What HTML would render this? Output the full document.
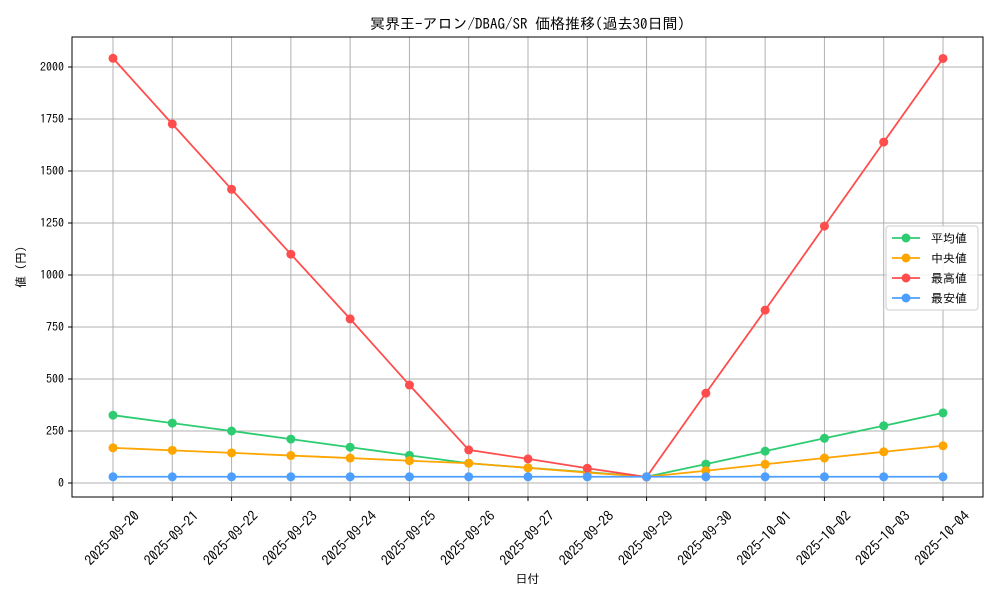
<!DOCTYPE html>
<html><head><meta charset="utf-8"><style>
html,body{margin:0;padding:0;background:#fff;}
svg{display:block;font-family:"IPAGothic","Noto Sans CJK JP",monospace;}
</style></head><body>
<svg id="chart" width="1000" height="600"></svg>
<script>
const categories=["2025-09-20","2025-09-21","2025-09-22","2025-09-23","2025-09-24","2025-09-25","2025-09-26","2025-09-27","2025-09-28","2025-09-29","2025-09-30","2025-10-01","2025-10-02","2025-10-03","2025-10-04"];
const avgValues=[326,288,250,211,172,133,95,73,52,30,91,153,215,275,337];
const medianValues=[169,157,145,132,120,107,95,73,50,30,59,90,120,150,179];
const maxValues=[2042,1726,1412,1100,789,471,159,116,71,29,432,831,1235,1639,2041];
const minValues=[30,30,30,30,30,30,30,30,30,30,30,30,30,30,30];
const yTicks=[0,250,500,750,1000,1250,1500,1750,2000];
const seriesNames=["平均値","中央値","最高値","最安値"];
const colors=["#2ecc71","#ffa500","#ff4d4d","#4d9fff"];

const NS="http://www.w3.org/2000/svg";
const svg=document.getElementById('chart');
const L=72,R=983,T=37,B=497;
const x=i=>113+i*(943-113)/(categories.length-1);
const y=v=>483-v*(416/2000);
function mk(tag,attrs,parent){const e=document.createElementNS(NS,tag);for(const k in attrs)e.setAttribute(k,attrs[k]);(parent||svg).appendChild(e);return e;}

const grid=mk('g',{});


categories.forEach((c,i)=>{mk('line',{x1:x(i),x2:x(i),y1:T,y2:B,stroke:'#b0b0b0','stroke-width':1},grid);});
yTicks.forEach(t=>{mk('line',{x1:L,x2:R,y1:y(t),y2:y(t),stroke:'#b0b0b0','stroke-width':1},grid);});

const frame=mk('rect',{x:L,y:T,width:R-L,height:B-T,fill:'none',stroke:'#000','stroke-width':1});



yTicks.forEach(t=>{
  mk('line',{x1:L-4,x2:L,y1:y(t),y2:y(t),stroke:'#000'});
  const tx=mk('text',{x:L-8,y:y(t)+4,'text-anchor':'end','font-size':12});
  tx.textContent=t;
  
  
});
categories.forEach((c,i)=>{
  mk('line',{x1:x(i),x2:x(i),y1:B,y2:B+4,stroke:'#000'});
  const ax=x(i)-1, ay=538;
  const tx=mk('text',{x:ax,y:ay+5,'text-anchor':'middle','font-size':14,transform:`rotate(-45 ${ax} ${ay})`});
  tx.textContent=c;
  
  
});

const all=[avgValues,medianValues,maxValues,minValues];
all.forEach((vals,s)=>{
  const g=mk('g',{});
  
  
  mk('polyline',{points:vals.map((v,i)=>x(i)+','+y(v)).join(' '),fill:'none',stroke:colors[s],'stroke-width':1.8},g);
  vals.forEach((v,i)=>{
    const c=mk('circle',{cx:x(i),cy:y(v),r:4.5,fill:colors[s]},g);
    
    
  });
});

const t1=mk('text',{x:(L+R)/2,y:29,'text-anchor':'middle','font-size':15});
t1.textContent='冥界王-アロン/DBAG/SR 価格推移(過去30日間)';


const xt=mk('text',{x:(L+R)/2,y:583,'text-anchor':'middle','font-size':12});
xt.textContent='日付';


const yt=mk('text',{x:25,y:(T+B)/2,'text-anchor':'middle','font-size':12,transform:`rotate(-90 25 ${(T+B)/2})`});
yt.textContent='値 (円)';



const lg=mk('g',{});


mk('rect',{x:886,y:226,width:92,height:84,rx:3,fill:'#fff','fill-opacity':0.85,stroke:'#ccc'},lg);
seriesNames.forEach((n,s)=>{
  const yy=238+s*20;
  mk('line',{x1:892,x2:920,y1:yy,y2:yy,stroke:colors[s],'stroke-width':1.8},lg);
  mk('circle',{cx:906,cy:yy,r:4.5,fill:colors[s]},lg);
  const tx=mk('text',{x:931,y:yy+4.5,'font-size':12},lg);
  tx.textContent=n;
  
  
});
</script>
</body></html>
